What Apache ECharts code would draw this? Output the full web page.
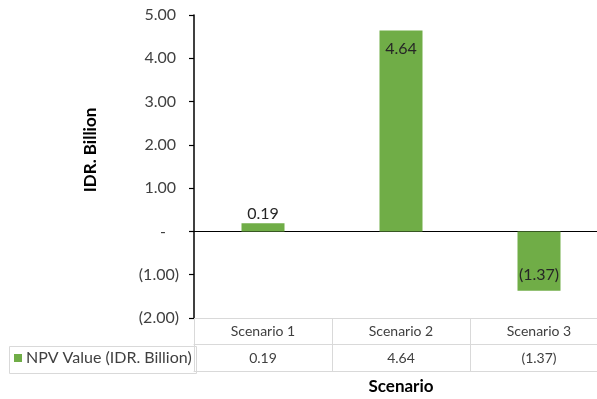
<!DOCTYPE html>
<html>
<head>
<meta charset="utf-8">
<script src="https://cdn.jsdelivr.net/npm/echarts@6/dist/echarts.min.js"></script>
<style>
  html, body { margin: 0; padding: 0; background: #fff; }
  #chart { width: 597px; height: 399px; }
</style>
</head>
<body>
<div id="chart"></div>
<script>
// NPV by scenario, in IDR billion
const categories = ['Scenario 1', 'Scenario 2', 'Scenario 3'];
const npvValues = [0.19, 4.64, -1.37];
const seriesName = 'NPV Value (IDR. Billion)';
const yTicks = { min: -2, max: 5, step: 1 };

const FONT = 'Lato';
const TEXT = '#404040';
const GREEN = '#70ad47';
const GRID_LINE = '#d9d9d9';

// Accounting-style number: 1.00, (1.00), and "-" for zero
function accounting(v) {
  if (Math.abs(v) < 1e-9) return '-';
  const s = Math.abs(v).toFixed(2);
  return v < 0 ? '(' + s + ')' : s;
}

const chart = echarts.init(document.getElementById('chart'), null, { renderer: 'canvas' });

const barData = npvValues.map(v => ({
  value: v,
  label: v < 0
    ? { position: 'insideBottom', distance: 8 }
    : (v > 1 ? { position: 'insideTop', distance: 10 } : { position: 'top', distance: 1 })
}));

const option = {
  animation: false,
  textStyle: { fontFamily: FONT },
  grid: { left: 194, top: 15, bottom: 81, right: -11, containLabel: false, outerBoundsMode: 'none' },
  legend: {
    left: 14, top: 350,
    padding: 0,
    icon: 'rect',
    itemWidth: 8, itemHeight: 8, itemGap: 5,
    textStyle: { fontFamily: FONT, fontSize: 16, color: TEXT, padding: [0, 0, 0, -1] },
    data: [seriesName]
  },
  xAxis: [
    { // baseline through zero
      type: 'category', data: categories,
      axisLine: { onZero: true, lineStyle: { color: '#000', width: 1 } },
      axisTick: { show: false }, axisLabel: { show: false }
    },
    { // data table: category names and values
      type: 'category', data: categories, position: 'bottom',
      axisLine: { onZero: false, lineStyle: { color: GRID_LINE, width: 1 } },
      axisTick: { show: true, interval: 0, length: 54, lineStyle: { color: GRID_LINE, width: 1 } },
      axisLabel: {
        interval: 0, margin: 0,
        formatter: (val, i) => '{c|' + val + '}\n{v|' + accounting(npvValues[i]) + '}',
        rich: {
          c: { fontFamily: FONT, fontSize: 14, color: TEXT, lineHeight: 27, height: 27 },
          v: { fontFamily: FONT, fontSize: 14, color: TEXT, lineHeight: 27, height: 27 }
        }
      },
      name: 'Scenario', nameLocation: 'middle', nameGap: 60,
      nameTextStyle: { fontFamily: FONT, fontSize: 17, fontWeight: 'bold', color: '#000' }
    },
    { // table row separator
      type: 'category', data: categories, position: 'bottom', offset: 26,
      axisLine: { onZero: false, lineStyle: { color: GRID_LINE, width: 1 } },
      axisTick: { show: false }, axisLabel: { show: false }
    },
    { // table bottom border
      type: 'category', data: categories, position: 'bottom', offset: 53,
      axisLine: { onZero: false, lineStyle: { color: GRID_LINE, width: 1 } },
      axisTick: { show: false }, axisLabel: { show: false }
    }
  ],
  yAxis: {
    type: 'value', min: yTicks.min, max: yTicks.max, interval: yTicks.step,
    axisLine: { show: true, lineStyle: { color: '#000', width: 1.5 } },
    axisTick: { show: true, length: 5, lineStyle: { color: '#000', width: 1.2 } },
    splitLine: { show: false },
    axisLabel: {
      margin: 15,
      formatter: v => {
        const t = accounting(v);
        if (v < 0) return t;
        if (v === 0) return '{z|' + t + '}';
        return '{p|' + t + '}';
      },
      fontFamily: FONT, fontSize: 16, color: TEXT,
      rich: {
        p: { fontFamily: FONT, fontSize: 16, color: TEXT, padding: [0, 3, 0, 0] },
        z: { fontFamily: FONT, fontSize: 16, color: TEXT, padding: [0, 13, 0, 0] }
      }
    }
  },
  graphic: [
    { // legend cell of the data table
      type: 'rect', left: 7, top: 344, z: 1,
      shape: { width: 187, height: 27 },
      style: { fill: 'none', stroke: GRID_LINE, lineWidth: 1 }
    },
    { // vertical axis title
      type: 'text', x: 91, y: 150, rotation: Math.PI / 2,
      style: {
        text: 'IDR. Billion', fill: '#000',
        font: 'bold 17px ' + FONT, align: 'center', verticalAlign: 'middle'
      }
    }
  ],
  series: [{
    name: seriesName, type: 'bar', xAxisIndex: 0,
    barWidth: 43, itemStyle: { color: GREEN },
    data: barData,
    label: {
      show: true, fontFamily: FONT, fontSize: 16, color: '#262626',
      formatter: p => accounting(p.value)
    }
  }]
};

chart.setOption(option);
</script>
</body>
</html>
